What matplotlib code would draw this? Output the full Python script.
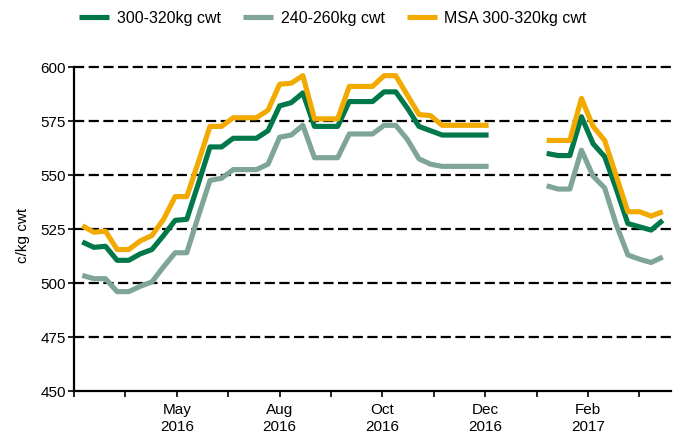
import matplotlib
matplotlib.use("Agg")
import matplotlib.pyplot as plt
import matplotlib.dates as mdates
import numpy as np
import pandas as pd

plt.rcParams['font.family'] = ['Liberation Sans', 'DejaVu Sans']

nan = np.nan
# weekly sale dates
week_dates = pd.date_range("2016-04-04", periods=51, freq="7D")

series_labels = ["300-320kg cwt", "240-260kg cwt", "MSA 300-320kg cwt"]

heavy = [519, 516.5, 517, 510.5, 510.5, 513.5, 515.5, 522, 529, 529.5,
         546, 563, 563, 567, 567, 567, 570.5, 582, 583.5, 588,
         572.5, 572.5, 572.5, 584, 584, 584, 588.5, 588.5, 581, 572.5,
         570.5, 568.5, 568.5, 568.5, 568.5, 568.5,
         nan, nan, nan, nan,
         560, 559, 559, 577, 564.5, 558.5, 543.5, 527.5, 526, 524.5, 529]

light = [503.5, 502, 502, 496, 496, 498.5, 500.5, 507.5, 514, 514,
         531, 547.5, 548.5, 552.5, 552.5, 552.5, 555, 567.5, 568.5, 573,
         558, 558, 558, 569, 569, 569, 573, 573, 566.5, 557.5,
         555, 554, 554, 554, 554, 554,
         nan, nan, nan, nan,
         545, 543.5, 543.5, 561.5, 549.5, 544, 527, 513, 511, 509.5, 512]

msa = [526.5, 523.5, 524, 515.5, 515.5, 519.5, 522, 529.5, 540, 540,
       556, 572.5, 572.5, 576.5, 576.5, 576.5, 580, 592, 592.5, 596,
       576, 576, 576, 591, 591, 591, 596, 596, 587, 578,
       577.5, 573, 573, 573, 573, 573,
       nan, nan, nan, nan,
       566, 566, 566, 585.5, 572.5, 566, 549.5, 533, 533, 531, 533]

y_ticks = [450, 475, 500, 525, 550, 575, 600]

colors = ["#00784A", "#7FA596", "#F2A900"]

fig = plt.figure(figsize=(6.8, 4.35), dpi=100)
ax = fig.add_axes([74 / 680, 1 - 392 / 435, (671 - 74) / 680, (392 - 68) / 435])

for yv in y_ticks[1:]:
    ax.axhline(yv, color="black", lw=1.6, ls=(0, (4.6, 2.0)), zorder=1,
               clip_on=False)

for vals, col, lab in zip([heavy, light, msa], colors, series_labels):
    ax.plot(week_dates, vals, color=col, lw=3.7, label=lab,
            solid_capstyle="butt", solid_joinstyle="round", zorder=3)

ax.set_ylim(450, 600)
ax.set_yticks(y_ticks)
ax.set_xlim(pd.Timestamp("2016-03-30"), pd.Timestamp("2017-03-25"))

tick_start = pd.Timestamp("2016-03-30")
tick_dates = [tick_start + pd.Timedelta(days=31 * k) for k in range(12)]
tick_labels = [(f"{d:%b}\n{d:%Y}" if (k % 2 == 0 and k >= 2) else "")
               for k, d in enumerate(tick_dates)]
ax.set_xticks(tick_dates)
ax.set_xticklabels(tick_labels)

for s in ["top", "right"]:
    ax.spines[s].set_visible(False)
for s in ["left", "bottom"]:
    ax.spines[s].set_linewidth(1.6)
    ax.spines[s].set_color("black")

ax.tick_params(axis="both", direction="out", length=4, width=1.2,
               labelsize=11, colors="black")
ax.tick_params(axis="y", pad=2)
ax.tick_params(axis="x", pad=4)
for t in ax.get_xticklabels():
    t.set_linespacing(1.3)

fig.text(23 / 680, 1 - 235 / 435, "c/kg cwt", rotation=90, fontsize=11,
         ha="center", va="center")

fig.legend(loc="center", bbox_to_anchor=(333 / 680, 1 - 19 / 435), ncol=3,
           frameon=False, fontsize=11.5, handlelength=1.9, handletextpad=0.45,
           columnspacing=1.4, borderaxespad=0)

fig.savefig("out.png", dpi=100)
